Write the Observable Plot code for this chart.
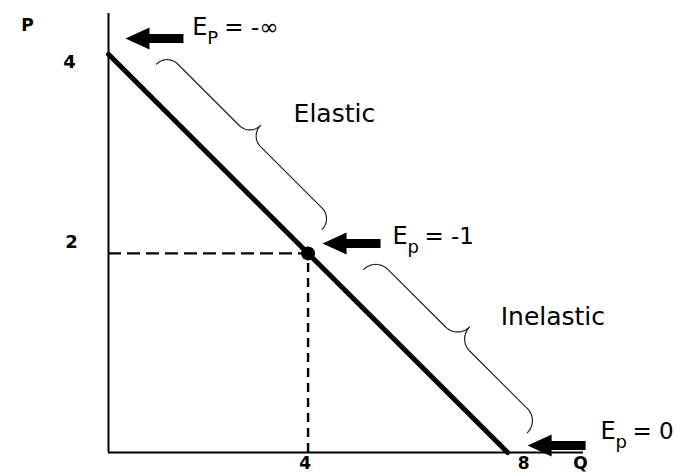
<!DOCTYPE html>
<html><head><meta charset="utf-8">
<script src="https://cdn.jsdelivr.net/npm/d3@7"></script>
<script src="https://cdn.jsdelivr.net/npm/@observablehq/plot@0.6"></script>
<style>body{margin:0;background:#fff}</style>
</head><body><div id="chart"></div>
<script>
// ---- data ----
const demandQ = [0, 8];
const demandP = [4, 0];
const unitQ = [4];
const unitP = [2];
const yTicks = [4, 2];
const xTicks = [4, 8];
const arrowTipQ = [0.34, 4.29, 8.40];
const arrowTipP = [4.16, 2.10, 0.07];
const labelQ = [1.68, 5.69, 9.86];
const labelP = [4.27, 2.17, 0.21];
const labelSub = ["P", "p", "p"];
const labelRest = ["= -\u221E", "= -1", "= 0"];
const regionNames = ["Elastic", "Inelastic"];
const regionQ = [3.71, 7.86];
const regionP = [3.40, 1.36];
const braceFromQ = [0.58, 4.72];
const braceToQ = [3.90, 8.00];

// ---- layout ----
const W = 676, H = 473, mL = 108, mR = 93, mT = 13, mB = 21;
const xMax = 9.52, yMax = 4.41;
const kx = (W - mL - mR) / xMax;
const ky = (H - mT - mB) / yMax;
const toPx = (q, p) => [mL + q * kx, H - mB - p * ky];
const toData = (px, py) => ({q: (px - mL) / kx, p: (H - mB - py) / ky});

// tables built from the arrays
const demand = demandQ.map((q, i) => ({q, p: demandP[i]}));
const unit = unitQ.map((q, i) => ({q, p: unitP[i]}));
const arrows = arrowTipQ.map((q, i) => ({q, p: arrowTipP[i]}));
const labels = labelQ.map((q, i) => ({q, p: labelP[i], sub: labelSub[i], rest: labelRest[i]}));
const regions = regionNames.map((name, i) => ({name, q: regionQ[i], p: regionP[i]}));

// braces: geometry built along the demand line in pixel space
const [ax, ay] = toPx(demandQ[0], demandP[0]);
const [bx, by] = toPx(demandQ[1], demandP[1]);
const len = Math.hypot(bx - ax, by - ay);
const dir = [(bx - ax) / len, (by - ay) / len];
const nrm = [dir[1], -dir[0]];
const braceBase = [27, 28], braceR = [15, 17];
const bracePts = [];
braceFromQ.forEach((q0, b) => {
  const t0 = (q0 - demandQ[0]) / (demandQ[1] - demandQ[0]) * len;
  const t1 = (braceToQ[b] - demandQ[0]) / (demandQ[1] - demandQ[0]) * len;
  const L = t1 - t0, r = braceR[b], base = braceBase[b];
  const half = [];
  const N = 16;
  for (let i = 0; i <= N; i++) { const th = i / N * Math.PI / 2; half.push([r - r * Math.cos(th), r * Math.sin(th)]); }
  for (let i = 0; i <= N; i++) { const ph = i / N * Math.PI / 2; half.push([L / 2 - r + r * Math.sin(ph), 2 * r - r * Math.cos(ph)]); }
  const full = half.concat(half.slice().reverse().map(([u, v]) => [L - u, v]));
  full.forEach(([u, v]) => {
    const px = ax + (t0 + u) * dir[0] + (base + v) * nrm[0];
    const py = ay + (t0 + u) * dir[1] + (base + v) * nrm[1];
    bracePts.push({...toData(px, py), b});
  });
});

const blockArrow = {
  draw(ctx) {
    const hl = 24, hw = 11, sw = 4.5, L = 58;
    ctx.moveTo(0, 0); ctx.lineTo(hl, -hw); ctx.lineTo(hl, -sw); ctx.lineTo(L, -sw);
    ctx.lineTo(L, sw); ctx.lineTo(hl, sw); ctx.lineTo(hl, hw); ctx.closePath();
  }
};

const font = "DejaVu Sans";
const plot = Plot.plot({
  width: W, height: H,
  marginLeft: mL, marginRight: mR, marginTop: mT, marginBottom: mB,
  x: {domain: [0, xMax], axis: null},
  y: {domain: [0, yMax], axis: null},
  style: {fontFamily: font, background: "white", color: "black", overflow: "visible"},
  marks: [
    Plot.ruleX([0], {y1: 0, y2: yMax, stroke: "black", strokeWidth: 2}),
    Plot.ruleY([0], {x1: 0, x2: xMax, stroke: "black", strokeWidth: 2}),
    Plot.ruleY(unit, {y: "p", x1: 0, x2: "q", stroke: "black", strokeWidth: 2.4, strokeDasharray: "13,6"}),
    Plot.ruleX(unit, {x: "q", y1: 0, y2: "p", stroke: "black", strokeWidth: 2.4, strokeDasharray: "9,6"}),
    Plot.line(demand, {x: "q", y: "p", stroke: "black", strokeWidth: 5}),
    Plot.dot(unit, {x: "q", y: "p", r: 7, fill: "black", stroke: "none"}),
    Plot.line(bracePts, {x: "q", y: "p", z: "b", stroke: "#222", strokeWidth: 1.2, curve: "linear"}),
    Plot.dot(arrows, {x: "q", y: "p", symbol: blockArrow, fill: "black", stroke: "none"}),
    Plot.text(labels, {x: "q", y: "p", text: () => "E", textAnchor: "start", fontSize: 24, fill: "black"}),
    Plot.text(labels, {x: "q", y: "p", text: "sub", textAnchor: "start", fontSize: 18, dx: 15, dy: 11, fill: "black"}),
    Plot.text(labels, {x: "q", y: "p", text: "rest", textAnchor: "start", fontSize: 23, dx: 32, fill: "black"}),
    Plot.text(regions, {x: "q", y: "p", text: "name", textAnchor: "start", fontSize: 25, fill: "black"}),
    Plot.text([yTicks[0]], {x: 0, y: d => d, text: d => String(d), fontSize: 18, fontWeight: "bold", dx: -39, dy: 8}),
    Plot.text([yTicks[1]], {x: 0, y: d => d, text: d => String(d), fontSize: 18, fontWeight: "bold", dx: -37, dy: -11}),
    Plot.text([xTicks[0]], {x: d => d, y: 0, text: d => String(d), fontSize: 17, fontWeight: "bold", dx: -3, dy: 11}),
    Plot.text([xTicks[1]], {x: d => d, y: 0, text: d => String(d), fontSize: 17, fontWeight: "bold", dx: 16, dy: 11}),
    Plot.text(["P"], {x: 0, y: yMax, text: d => d, fontSize: 17, fontWeight: "bold", dx: -81, dy: 12}),
    Plot.text(["Q"], {x: xMax, y: 0, text: d => d, fontSize: 17, fontWeight: "bold", dx: -3, dy: 11})
  ]
});
document.getElementById("chart").appendChild(plot);
</script></body></html>
